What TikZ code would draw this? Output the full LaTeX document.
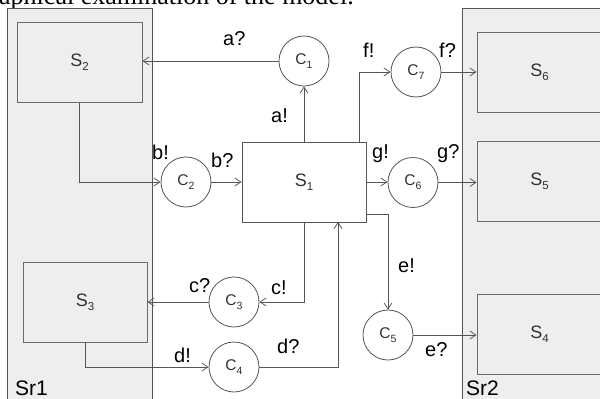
\documentclass[tikz,border=0pt]{standalone}
\usepackage{fontspec}
\setmainfont{Liberation Sans}
\newfontfamily\captionserif{Liberation Serif}
\usetikzlibrary{arrows.meta}

\definecolor{linegray}{HTML}{555555}
\definecolor{boxgray}{HTML}{6A6A6A}
\definecolor{regionfill}{HTML}{EEEEEE}
\definecolor{textgray}{HTML}{303030}

% state name with a lowered index
\newcommand{\stname}[2]{\fontsize{18}{18}\selectfont #1\raisebox{-4pt}{\fontsize{11.5}{11.5}\selectfont #2}}
% channel name with a lowered index
\newcommand{\chname}[2]{\fontsize{15.5}{15.5}\selectfont #1\raisebox{-4pt}{\fontsize{10.5}{10.5}\selectfont #2}}

\begin{document}
\begin{tikzpicture}[x=1pt,y=-1pt,
  region/.style={draw=linegray, fill=regionfill, line width=0.8pt},
  state/.style={draw=boxgray, line width=0.8pt, minimum width=125pt, minimum height=80pt,
                inner sep=0pt, text=textgray},
  mainstate/.style={state, draw=linegray, fill=white},
  chan/.style={circle, draw=linegray, fill=white, minimum size=50pt, inner sep=0pt,
               line width=0.8pt, text=textgray},
  conn/.style={draw=linegray, line width=0.8pt, -{Straight Barb[length=6pt,width=8pt]}},
  lab/.style={font=\fontsize{20}{20}\selectfont, inner sep=0pt, anchor=base west},
  reglab/.style={font=\fontsize{21}{21}\selectfont, inner sep=0pt, anchor=base west}
]
\useasboundingbox (0,0) rectangle (600,399);
\clip (0,0) rectangle (600,399);

% caption line running above the figure
\node[font=\captionserif\fontsize{26}{26}\selectfont, inner sep=0pt, anchor=base west]
  (caption) at (-1,4.5) {aphical examination of the model.};

% the two regions
\draw[region] (7,8) rectangle (152,412);
\draw[region] (462.5,8) rectangle (612,412);
\node[reglab] (sr1) at (15,395) {Sr1};
\node[reglab] (sr2) at (466,395) {Sr2};

% states
\node[state] (S2) at (79.5,62.5) {\stname{S}{2}};
\node[state, minimum width=124pt] (S3) at (85,302) {\stname{S}{3}};
\node[mainstate, minimum width=124pt] (S1) at (304,182) {\stname{S}{1}};
\node[state] (S6) at (539.5,72) {\stname{S}{6}};
\node[state] (S5) at (539.5,181) {\stname{S}{5}};
\node[state] (S4) at (539.5,334) {\stname{S}{4}};

% channels
\node[chan] (C1) at (304,61) {\chname{C}{1}};
\node[chan] (C2) at (186,182) {\chname{C}{2}};
\node[chan] (C6) at (413,182.5) {\chname{C}{6}};
\node[chan] (C7) at (416,72) {\chname{C}{7}};
\node[chan] (C3) at (234,302) {\chname{C}{3}};
\node[chan] (C4) at (234,367) {\chname{C}{4}};
\node[chan] (C5) at (388,335) {\chname{C}{5}};

% ports on S1
\coordinate (fout) at (359,142);
\coordinate (eout) at (366,214);
\coordinate (din) at (338,222);

% connectors
\draw[conn] (C1.west) -- (C1.west -| S2.east);
\draw[conn] (S1.north) -- (C1.south);
\draw[conn] (S2.south) |- (C2.west);
\draw[conn] (C2.east) -- (S1.west);
\draw[conn] (fout) |- (C7.west);
\draw[conn] (C7.east) -- (S6.west);
\draw[conn] (S1.east) -- (S1.east -| C6.west);
\draw[conn] (C6.east) -- (C6.east -| S5.west);
\draw[conn] (eout) -| (C5.north);
\draw[conn] (C5.east) -- (C5.east -| S4.west);
\draw[conn] (S1.south) |- (C3.east);
\draw[conn] (C3.west) -- (S3.east);
\draw[conn] (S3.south) |- (C4.west);
\draw[conn] (C4.east) -| (din);

% action labels
\node[lab] (la2) at (223,45) {a?};
\node[lab] (la1) at (271,122) {a!};
\node[lab] (lb1) at (152,159) {b!};
\node[lab] (lb2) at (211,167) {b?};
\node[lab] (lf1) at (363,57) {f!};
\node[lab] (lf2) at (439,57) {f?};
\node[lab] (lg1) at (372,158) {g!};
\node[lab] (lg2) at (437,158) {g?};
\node[lab] (le1) at (398,272) {e!};
\node[lab] (le2) at (425,356) {e?};
\node[lab] (lc1) at (271,294) {c!};
\node[lab] (lc2) at (189,292) {c?};
\node[lab] (ld1) at (174,362) {d!};
\node[lab] (ld2) at (277,353) {d?};
\end{tikzpicture}
\end{document}
